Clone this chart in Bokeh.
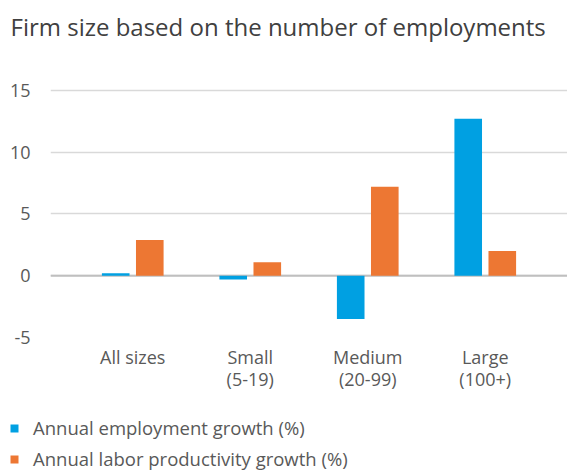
from bokeh.plotting import figure
from bokeh.models import (FactorRange, Range1d, Legend, LegendItem, Span,
                          ColumnDataSource, FixedTicker, PrintfTickFormatter)
from bokeh.transform import dodge
from bokeh.embed import file_html
from bokeh.resources import INLINE

categories = ["All sizes", "Small\n(5-19)", "Medium\n(20-99)", "Large\n(100+)"]
employment_growth = [0.2, -0.3, -3.5, 12.7]
productivity_growth = [2.9, 1.1, 7.2, 2.0]
series_names = ["Annual employment growth (%)", "Annual labor productivity growth (%)"]
y_ticks = [-5, 0, 5, 10, 15]
title_text = "Firm size based on the number of employments"

BLUE = "#00A0E2"
ORANGE = "#ED7733"
LABEL = "#595959"
FONT = "Open Sans"

src = ColumnDataSource(dict(cat=categories, emp=employment_growth, prod=productivity_growth))
xr = FactorRange(factors=categories, range_padding=0.2, range_padding_units="absolute")

# chart: frame extends a little above the top gridline so the title sits high
p = figure(x_range=xr, y_range=Range1d(-5, 18.64), width=567, height=410,
           output_backend="svg", toolbar_location=None, title=title_text,
           min_border_left=50, min_border_right=0, min_border_top=45,
           min_border_bottom=73)

r1 = p.vbar(x=dodge("cat", -0.145, range=xr), top="emp", width=0.235,
            source=src, fill_color=BLUE, line_color=None)
r2 = p.vbar(x=dodge("cat", 0.145, range=xr), top="prod", width=0.235,
            source=src, fill_color=ORANGE, line_color=None)

zero = Span(location=0, dimension="width", line_color="#BFBFBF", line_width=2,
            level="underlay")
p.add_layout(zero)

p.outline_line_color = None
p.xgrid.visible = False
p.ygrid.grid_line_color = "#D9D9D9"
p.ygrid.grid_line_width = 1.5
p.yaxis.ticker = FixedTicker(ticks=y_ticks)
p.yaxis.formatter = PrintfTickFormatter(format="%d")

for ax in (p.xaxis[0], p.yaxis[0]):
    ax.axis_line_color = None
    ax.major_tick_line_color = None
    ax.minor_tick_line_color = None
    ax.major_label_text_font = FONT
    ax.major_label_text_font_size = "18px"
    ax.major_label_text_color = LABEL
p.yaxis.major_label_standoff = 14
p.xaxis.major_label_standoff = 1
p.xaxis.major_label_text_line_height = 0.92

p.title.text_font = FONT
p.title.text_font_size = "24px"
p.title.text_font_style = "normal"
p.title.text_color = "#404040"
p.title.offset = -40
p.title.standoff = 5

# legend strip below the chart (same series; its y range keeps the bars out of view)
p2 = figure(x_range=xr, y_range=Range1d(100, 101), width=567, height=61,
            output_backend="svg", toolbar_location=None,
            x_axis_location=None, y_axis_location=None,
            min_border_left=0, min_border_right=0, min_border_top=0,
            min_border_bottom=0)
p2.outline_line_color = None
p2.grid.visible = False
k1 = p2.vbar(x=dodge("cat", -0.145, range=xr), top="emp", width=0.235,
             source=src, fill_color=BLUE, line_color=None)
k2 = p2.vbar(x=dodge("cat", 0.145, range=xr), top="prod", width=0.235,
             source=src, fill_color=ORANGE, line_color=None)

legend = Legend(items=[LegendItem(label=series_names[0], renderers=[k1]),
                       LegendItem(label=series_names[1], renderers=[k2])],
                orientation="vertical", location=(9, 0),
                glyph_width=10, glyph_height=10, label_standoff=14,
                label_text_font=FONT, label_text_font_size="18.5px",
                label_text_color=LABEL, label_height=24, spacing=6,
                border_line_color=None, background_fill_alpha=0,
                padding=0, margin=0)
p2.add_layout(legend, "center")

open("out.html", "w").write(file_html([p, p2], INLINE))
